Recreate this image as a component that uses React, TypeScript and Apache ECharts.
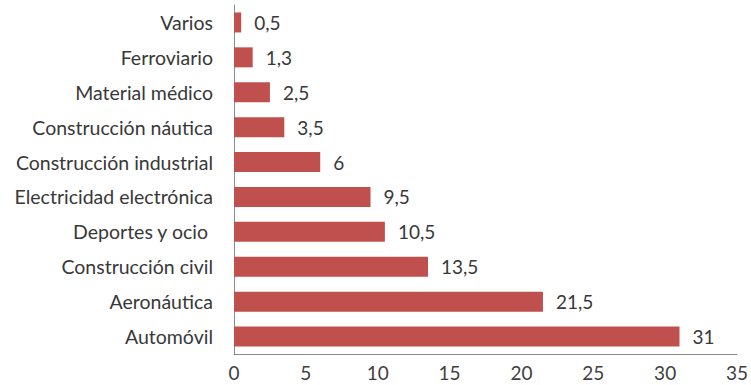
import React, { useEffect, useRef } from "react";
import * as echarts from "echarts";

const categories = [
  "Automóvil",
  "Aeronáutica",
  "Construcción civil",
  "Deportes y ocio ",
  "Electricidad electrónica",
  "Construcción industrial",
  "Construcción náutica",
  "Material médico",
  "Ferroviario",
  "Varios",
];
const values = [31, 21.5, 13.5, 10.5, 9.5, 6, 3.5, 2.5, 1.3, 0.5];
const xTicks = { min: 0, max: 35, interval: 5 };

export default function App() {
  const ref = useRef<HTMLDivElement>(null);
  useEffect(() => {
    if (!ref.current) return;
    const chart = echarts.init(ref.current, null, { renderer: "svg" });
    const font = "Lato, 'Open Sans', sans-serif";
    chart.setOption({
      animation: false,
      backgroundColor: "#ffffff",
      grid: { left: 234, right: 14, top: 5, bottom: 31, containLabel: false },
      xAxis: {
        type: "value",
        min: xTicks.min,
        max: xTicks.max,
        interval: xTicks.interval,
        splitLine: { show: false },
        axisLine: { show: true, lineStyle: { color: "#8c8c8c", width: 1 } },
        axisTick: { show: false },
        axisLabel: {
          color: "#404040",
          fontSize: 19,
          fontFamily: font,
          margin: 9,
        },
      },
      yAxis: {
        type: "category",
        data: categories,
        axisLine: { show: true, lineStyle: { color: "#8c8c8c", width: 1 } },
        axisTick: { show: false },
        axisLabel: {
          color: "#383838",
          fontSize: 19.5,
          fontFamily: font,
          margin: 21,
        },
      },
      series: [
        {
          type: "bar",
          data: values,
          barWidth: 20,
          itemStyle: { color: "#c0504d" },
          label: {
            show: true,
            position: "right",
            distance: 13,
            color: "#383838",
            fontSize: 19,
            fontFamily: font,
            formatter: (p: any) => String(p.value).replace(".", ","),
          },
        },
      ],
    });
    return () => chart.dispose();
  }, []);
  return (
    <div
      ref={ref}
      style={{ position: "fixed", left: 0, top: 0, width: 751, height: 385 }}
    />
  );
}
